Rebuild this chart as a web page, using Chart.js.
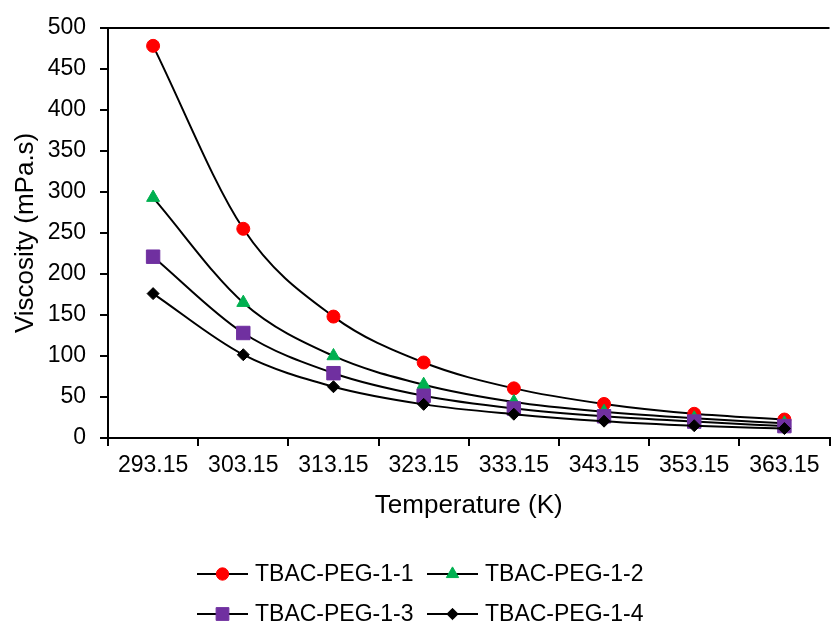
<!DOCTYPE html>
<html>
<head>
<meta charset="utf-8">
<script src="https://cdn.jsdelivr.net/npm/chart.js@4/dist/chart.umd.min.js"></script>
<style>
html,body{margin:0;padding:0;background:#fff;overflow:hidden;width:831px;height:626px;}
canvas{display:block;}
</style>
</head>
<body>
<canvas id="c" width="840" height="626"></canvas>
<script>
// ---- data ----
const temperatures = ['293.15', '303.15', '313.15', '323.15', '333.15', '343.15', '353.15', '363.15'];
const seriesNames = ['TBAC-PEG-1-1', 'TBAC-PEG-1-2', 'TBAC-PEG-1-3', 'TBAC-PEG-1-4'];
const peg11 = [478, 255, 148, 92, 60.5, 41.5, 29.5, 22.5];
const peg12 = [293, 165, 100, 65, 44, 32, 24, 18];
const peg13 = [221, 128, 79, 51.5, 36, 26.5, 20, 14.5];
const peg14 = [176, 101.5, 62.5, 41, 29, 20.5, 15, 11.5];
const yMin = 0, yMax = 500, yStep = 50;

// ---- styles ----
const FONT = "'Liberation Sans', Arial, sans-serif";
function series(label, data, color, style, radius, order) {
  return {
    label, data, order,
    borderColor: '#000', borderWidth: 2, cubicInterpolationMode: 'monotone', fill: false,
    pointStyle: style, pointRadius: radius, pointHoverRadius: radius,
    pointBackgroundColor: color, pointBorderColor: color, pointBorderWidth: 1
  };
}

const legendPlugin = {
  id: 'customLegend',
  afterDraw(chart, args, o) {
    const ctx = chart.ctx;
    chart.data.datasets.forEach((ds, i) => {
      const col = i % 2, row = Math.floor(i / 2);
      const x0 = o.x[col], y = o.y[row];
      ctx.save();
      ctx.strokeStyle = '#000'; ctx.lineWidth = 2;
      ctx.beginPath(); ctx.moveTo(x0, y); ctx.lineTo(x0 + o.lineLen, y); ctx.stroke();
      ctx.fillStyle = ds.pointBackgroundColor; ctx.strokeStyle = ds.pointBorderColor; ctx.lineWidth = ds.pointBorderWidth;
      Chart.helpers.drawPoint(ctx, {pointStyle: ds.pointStyle, radius: ds.pointRadius * 0.95, rotation: 0, borderWidth: ds.pointBorderWidth}, x0 + o.lineLen / 2, y);
      ctx.fillStyle = '#000'; ctx.font = o.font; ctx.textBaseline = 'middle'; ctx.textAlign = 'left';
      ctx.fillText(ds.label, x0 + o.lineLen + o.gap, y + 1);
      ctx.restore();
    });
  }
};

new Chart(document.getElementById('c'), {
  type: 'line',
  data: {
    labels: temperatures,
    datasets: [
      series(seriesNames[0], peg11, '#ff0000', 'circle', 6.5, 4),
      series(seriesNames[1], peg12, '#00b050', 'triangle', 7.5, 3),
      series(seriesNames[2], peg13, '#7030a0', 'rect', 9.5, 2),
      series(seriesNames[3], peg14, '#000000', 'rectRot', 6, 1)
    ]
  },
  options: {
    responsive: false,
    animation: false,
    layout: { padding: { top: 26, right: 0, bottom: 0, left: 0 } },
    plugins: {
      legend: { display: false },
      tooltip: { enabled: false },
      customLegend: { x: [197, 427], y: [574, 614], lineLen: 51, gap: 7, font: "23px " + FONT }
    },
    scales: {
      x: {
        type: 'category',
        offset: true,
        afterFit(s) { s.height = 188; },
        border: { display: true, color: '#000', width: 2 },
        grid: { display: true, offset: true, drawOnChartArea: false, drawTicks: true, tickLength: 8, color: '#000', lineWidth: 2 },
        ticks: { color: '#000', font: { family: FONT, size: 23 }, padding: 6, maxRotation: 0, autoSkip: false },
        title: { display: true, text: 'Temperature (K)', color: '#000', font: { family: FONT, size: 26 }, padding: { top: 0, bottom: 105 } }
      },
      y: {
        min: yMin, max: yMax,
        afterFit(s) { s.width = 108; },
        border: { display: true, color: '#000', width: 2 },
        grid: {
          drawOnChartArea: true, drawTicks: true, tickLength: 8,
          color: (c) => (c.tick && c.tick.value === yMax) ? '#000' : 'rgba(0,0,0,0)',
          tickColor: '#000', lineWidth: 2
        },
        ticks: { stepSize: yStep, color: '#000', font: { family: FONT, size: 23 }, padding: 14 },
        title: { display: true, text: 'Viscosity (mPa.s)', color: '#000', font: { family: FONT, size: 26 }, padding: { top: 10, bottom: 0 } }
      }
    }
  },
  plugins: [legendPlugin]
});
</script>
</body>
</html>
